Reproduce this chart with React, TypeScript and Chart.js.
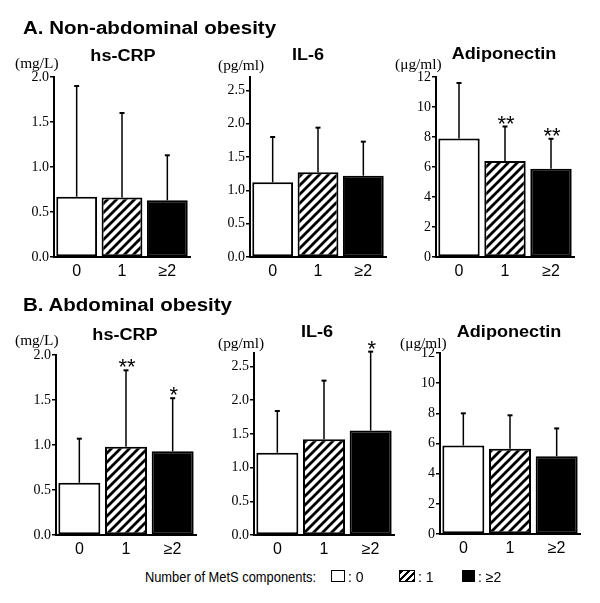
import React, { useEffect, useRef } from 'react';
import { Chart, registerables } from 'chart.js';

Chart.register(...registerables);

// ---- data ----
const categories = ['0', '1', '≥2'];

const aCrpMean = [0.67, 0.66, 0.63];
const aCrpSd = [1.23, 0.94, 0.5];
const aIl6Mean = [1.12, 1.27, 1.22];
const aIl6Sd = [0.68, 0.67, 0.51];
const aAdipoMean = [7.9, 6.4, 5.88];
const aAdipoSd = [3.7, 2.3, 2.0];
const aAdipoSig = ['', '**', '**'];

const bCrpMean = [0.58, 0.98, 0.93];
const bCrpSd = [0.49, 0.85, 0.59];
const bCrpSig = ['', '**', '*'];
const bIl6Mean = [1.22, 1.42, 1.55];
const bIl6Sd = [0.62, 0.87, 1.17];
const bIl6Sig = ['', '', '*'];
const bAdipoMean = [5.87, 5.66, 5.15];
const bAdipoSd = [2.13, 2.21, 1.85];
const noSig = ['', '', ''];

const crpTicks = [0, 0.5, 1.0, 1.5, 2.0];
const il6Ticks = [0, 0.5, 1.0, 1.5, 2.0, 2.5];
const adipoTicks = [0, 2, 4, 6, 8, 10, 12];
const crpMax = 2.0;
const il6Max = 2.7;
const adipoMax = 12;

const legendLabel = 'Number of MetS components:';
const sectionA = 'A. Non-abdominal obesity';
const sectionB = 'B. Abdominal obesity';

type Panel = {
  id: string;
  title: string;
  unit: string;
  mean: number[];
  sd: number[];
  sig: string[];
  tickValues: number[];
  max: number;
  decimals: number;
  area: { l: number; r: number; t: number; b: number };
  titleX: number;
  titleY: number;
  unitX: number;
  unitY: number;
};

const panels: Panel[] = [
  { id: 'a1', title: 'hs-CRP', unit: '(mg/L)', mean: aCrpMean, sd: aCrpSd, sig: noSig, tickValues: crpTicks, max: crpMax, decimals: 1,
    area: { l: 54, r: 190, t: 77, b: 257 }, titleX: 123, titleY: 57, unitX: 15, unitY: 64 },
  { id: 'a2', title: 'IL-6', unit: '(pg/ml)', mean: aIl6Mean, sd: aIl6Sd, sig: noSig, tickValues: il6Ticks, max: il6Max, decimals: 1,
    area: { l: 250, r: 386, t: 77, b: 257 }, titleX: 308, titleY: 56, unitX: 218, unitY: 66 },
  { id: 'a3', title: 'Adiponectin', unit: '(μg/ml)', mean: aAdipoMean, sd: aAdipoSd, sig: aAdipoSig, tickValues: adipoTicks, max: adipoMax, decimals: 0,
    area: { l: 436, r: 574, t: 77, b: 257 }, titleX: 504, titleY: 55, unitX: 395, unitY: 65 },
  { id: 'b1', title: 'hs-CRP', unit: '(mg/L)', mean: bCrpMean, sd: bCrpSd, sig: bCrpSig, tickValues: crpTicks, max: crpMax, decimals: 1,
    area: { l: 56, r: 196, t: 355, b: 535 }, titleX: 125, titleY: 336, unitX: 15, unitY: 341 },
  { id: 'b2', title: 'IL-6', unit: '(pg/ml)', mean: bIl6Mean, sd: bIl6Sd, sig: bIl6Sig, tickValues: il6Ticks, max: il6Max, decimals: 1,
    area: { l: 254, r: 394, t: 353, b: 535 }, titleX: 317, titleY: 333, unitX: 218, unitY: 344 },
  { id: 'b3', title: 'Adiponectin', unit: '(μg/ml)', mean: bAdipoMean, sd: bAdipoSd, sig: noSig, tickValues: adipoTicks, max: adipoMax, decimals: 0,
    area: { l: 440, r: 580, t: 353, b: 534 }, titleX: 509, titleY: 333, unitX: 400, unitY: 344 },
];

const SANS = '"Liberation Sans", Arial, sans-serif';
const SERIF = '"Liberation Serif", "Times New Roman", serif';

function makeHatchTile(): HTMLCanvasElement {
  const P = 9;
  const c = document.createElement('canvas');
  c.width = P;
  c.height = P;
  const g = c.getContext('2d')!;
  g.fillStyle = '#fff';
  g.fillRect(0, 0, P, P);
  g.strokeStyle = '#000';
  g.lineWidth = 2.8;
  g.beginPath();
  g.moveTo(-P, P); g.lineTo(P, -P);
  g.moveTo(0, P); g.lineTo(P, 0);
  g.moveTo(0, 2 * P); g.lineTo(2 * P, 0);
  g.stroke();
  return c;
}

function BarPanel({ p }: { p: Panel }) {
  const ref = useRef<HTMLCanvasElement>(null);
  const L = p.area.l - 54;
  const T = p.area.t - 40;
  const W = p.area.r - p.area.l + 60;
  const H = p.area.b - p.area.t + 70;

  useEffect(() => {
    const canvas = ref.current!;
    const ctx = canvas.getContext('2d')!;
    const hatch = ctx.createPattern(makeHatchTile(), 'repeat');

    const overlay = {
      id: 'overlay_' + p.id,
      afterDatasetsDraw(chart: any) {
        const c = chart.ctx as CanvasRenderingContext2D;
        const ys = chart.scales.y;
        const meta = chart.getDatasetMeta(0);
        c.save();
        c.strokeStyle = '#000';
        c.fillStyle = '#000';
        meta.data.forEach((bar: any, i: number) => {
          const x = bar.x;
          const y0 = ys.getPixelForValue(p.mean[i]);
          const y1 = ys.getPixelForValue(p.mean[i] + p.sd[i]);
          c.lineWidth = 1.5;
          c.beginPath();
          c.moveTo(x, y0);
          c.lineTo(x, y1);
          c.stroke();
          c.lineWidth = 2;
          c.beginPath();
          c.moveTo(x - 2.5, y1);
          c.lineTo(x + 2.5, y1);
          c.stroke();
          if (p.sig[i]) {
            c.font = '22px ' + SANS;
            c.textAlign = 'center';
            c.textBaseline = 'alphabetic';
            c.fillText(p.sig[i], x + 1, y1 + 4);
          }
        });
        c.restore();
      },
      afterDraw(chart: any) {
        const c = chart.ctx as CanvasRenderingContext2D;
        c.save();
        c.fillStyle = '#000';
        c.font = 'bold 16px ' + SANS;
        c.textAlign = 'center';
        c.textBaseline = 'middle';
        c.translate(p.titleX - L, p.titleY - T);
        c.scale(1.13, 1);
        c.fillText(p.title, 0, 0);
        c.restore();

        c.save();
        c.fillStyle = '#000';
        c.font = '14px ' + SERIF;
        c.textAlign = 'left';
        c.textBaseline = 'middle';
        c.translate(p.unitX - L, p.unitY - T);
        c.scale(1.1, 1);
        c.fillText(p.unit, 0, 0);
        c.restore();
      },
    };

    const chart = new Chart(canvas, {
      type: 'bar',
      data: {
        labels: categories,
        datasets: [
          {
            data: p.mean,
            backgroundColor: ['#ffffff', hatch as any, '#000000'],
            borderColor: '#000',
            borderWidth: 2,
            borderSkipped: false,
            barPercentage: 0.9,
            categoryPercentage: 1,
          },
        ],
      },
      options: {
        responsive: false,
        animation: false,
        events: [],
        layout: { padding: { left: 4, right: 6, top: 40, bottom: 6 } },
        plugins: {
          legend: { display: false },
          tooltip: { enabled: false },
          title: { display: false },
        },
        scales: {
          x: {
            grid: { display: false, drawTicks: false },
            border: { display: true, color: '#000', width: 2 },
            ticks: {
              color: '#000',
              font: { family: SANS, size: 16 },
              padding: 5,
              maxRotation: 0,
              autoSkip: false,
            },
            afterFit: (s: any) => {
              s.height = 24;
            },
          },
          y: {
            min: 0,
            max: p.max,
            grid: {
              display: true,
              drawOnChartArea: false,
              drawTicks: true,
              tickLength: 4,
              color: '#000',
              lineWidth: 1.5,
            },
            border: { display: true, color: '#000', width: 2 },
            ticks: {
              color: '#000',
              font: { family: SERIF, size: 14 },
              padding: 1,
              callback: (v: any) => Number(v).toFixed(p.decimals),
            },
            afterBuildTicks: (s: any) => {
              s.ticks = p.tickValues.map((v) => ({ value: v }));
            },
            afterFit: (s: any) => {
              s.width = 50;
            },
          },
        },
      },
      plugins: [overlay],
    } as any);
    return () => chart.destroy();
  }, []);

  return (
    <canvas
      ref={ref}
      width={W}
      height={H}
      style={{ position: 'absolute', left: L, top: T, width: W, height: H }}
    />
  );
}

const sectionStyle: React.CSSProperties = {
  position: 'absolute',
  left: 23,
  fontFamily: SANS,
  fontWeight: 'bold',
  fontSize: 18,
  lineHeight: '18px',
  whiteSpace: 'nowrap',
  transform: 'scaleX(1.14)',
  transformOrigin: 'left center',
  color: '#000',
};

const legendText: React.CSSProperties = {
  position: 'absolute',
  top: 569,
  fontFamily: SANS,
  fontSize: 14,
  lineHeight: '16px',
  whiteSpace: 'nowrap',
  color: '#000',
};

export default function App() {
  return (
    <div
      style={{
        position: 'absolute',
        left: 0,
        top: 0,
        width: 600,
        height: 603,
        overflow: 'hidden',
        background: '#fff',
      }}
    >
      {panels.map((p) => (
        <BarPanel key={p.id} p={p} />
      ))}
      <div style={{ ...sectionStyle, top: 19 }}>{sectionA}</div>
      <div style={{ ...sectionStyle, top: 296 }}>{sectionB}</div>

      <div style={{ ...legendText, right: 284, transform: 'scaleX(0.92)', transformOrigin: 'right center' }}>{legendLabel}</div>
      <div style={{ position: 'absolute', left: 331, top: 570, width: 14, height: 12, border: '1.5px solid #000', boxSizing: 'border-box', background: '#fff' }} />
      <div style={{ ...legendText, left: 348 }}>: 0</div>
      <div
        style={{
          position: 'absolute',
          left: 399,
          top: 570,
          width: 16,
          height: 12,
          border: '1.5px solid #000',
          boxSizing: 'border-box',
          background: 'repeating-linear-gradient(135deg, #000 0px, #000 2.5px, #fff 2.5px, #fff 5px)',
        }}
      />
      <div style={{ ...legendText, left: 418 }}>: 1</div>
      <div style={{ position: 'absolute', left: 462, top: 570, width: 13, height: 12, background: '#000' }} />
      <div style={{ ...legendText, left: 478 }}>: ≥2</div>
    </div>
  );
}
